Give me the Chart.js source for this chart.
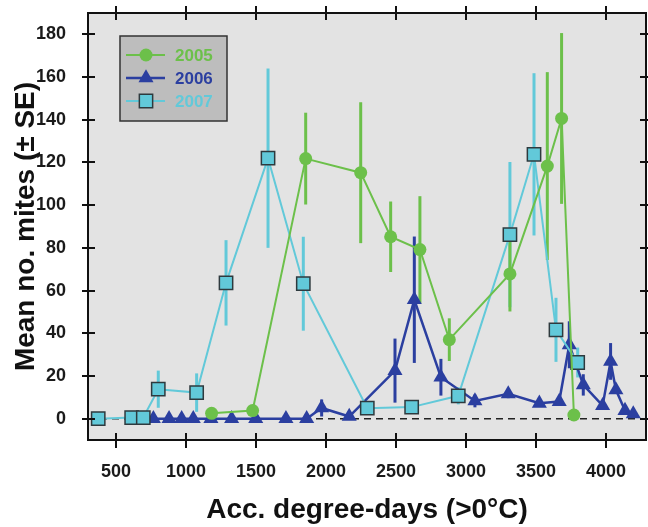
<!DOCTYPE html>
<html lang="en">
<head>
<meta charset="utf-8">
<title>Mean no. mites</title>
<script src="https://cdn.jsdelivr.net/npm/chart.js@4.4.0/dist/chart.umd.min.js"></script>
<style>
  html, body { margin: 0; padding: 0; background: #fff; }
  #wrap { width: 648px; height: 527px; }
</style>
</head>
<body>
<div id="wrap"><canvas id="chart" width="648" height="527"></canvas></div>
<script>
// values (x = acc. degree-days, y = mean mites, se = +/- SE)
const x2005 = [1183, 1476, 1855, 2248, 2462, 2671, 2881, 3314, 3581, 3683, 3771];
const y2005 = [2.5, 3.8, 121.8, 115.2, 85.2, 79.2, 37, 67.8, 118.3, 140.6, 1.7];
const se2005 = [0, 0, 21.5, 33, 16.5, 25, 10, 17.6, 44, 40, 0];

const x2006 = [767, 879, 969, 1052, 1178, 1326, 1498, 1714, 1862, 1969, 2166, 2493, 2631,
               2821, 3064, 3302, 3524, 3666, 3738, 3838, 3976, 4033, 4071, 4136, 4195];
const y2006 = [0, 0, 0, 0, 0, 0, 0, 0, 0, 5, 1, 22.5, 55.7,
               19.4, 8.3, 11.6, 7.2, 8, 34.6, 15.8, 6.1, 26.8, 13.5, 3.8, 2.2];
const se2006 = [0, 0, 0, 0, 0, 0, 0, 0, 0, 4, 0, 15, 29.6,
                8.6, 3, 2, 0, 0, 11, 5, 0, 8.6, 0, 0, 0];

const x2007 = [373, 612, 695, 802, 1076, 1286, 1586, 1838, 2295, 2612, 2945, 3314, 3486, 3643, 3798];
const y2007 = [0, 0.5, 0.5, 13.8, 12.2, 63.6, 122, 63.2, 4.9, 5.4, 10.7, 86.2, 123.8, 41.6, 26.3];
const se2007 = [0, 0, 0, 8.7, 9, 20, 42, 22, 0, 0, 4, 34, 38, 15, 7];

const xTicks = [500, 1000, 1500, 2000, 2500, 3000, 3500, 4000];
const yTicks = [0, 20, 40, 60, 80, 100, 120, 140, 160, 180];

const green = "#6cc04a";
const blue = "#2b3fa0";
const cyan = "#62c9d9";

const pts = (xs, ys) => xs.map((v, i) => ({ x: v, y: ys[i] }));

// background, zero line, error bars, frame, ticks and legend box
const decor = {
  id: "decor",
  beforeDraw(chart) {
    const { ctx, chartArea: a } = chart;
    ctx.save();
    ctx.fillStyle = "#e3e3e3";
    ctx.fillRect(a.left, a.top, a.right - a.left, a.bottom - a.top);
    ctx.restore();
  },
  beforeDatasetsDraw(chart) {
    const { ctx, chartArea: a, scales: { x, y } } = chart;
    ctx.save();
    const y0 = y.getPixelForValue(0);
    ctx.setLineDash([7, 5]);
    ctx.strokeStyle = "#222";
    ctx.lineWidth = 1.5;
    ctx.beginPath();
    ctx.moveTo(a.left, y0);
    ctx.lineTo(a.right, y0);
    ctx.stroke();
    ctx.setLineDash([]);
    ctx.lineWidth = 3;
    // bottom-most dataset first
    [...chart.data.datasets].reverse().forEach(ds => {
      ctx.strokeStyle = ds.borderColor;
      ds.data.forEach((p, i) => {
        const e = ds.errors[i];
        if (!e) return;
        const px = x.getPixelForValue(p.x);
        ctx.beginPath();
        ctx.moveTo(px, y.getPixelForValue(p.y - e));
        ctx.lineTo(px, y.getPixelForValue(p.y + e));
        ctx.stroke();
      });
    });
    ctx.restore();
  },
  afterDraw(chart) {
    const { ctx, chartArea: a, scales: { x, y } } = chart;
    ctx.save();
    ctx.strokeStyle = "#111";
    ctx.lineWidth = 2;
    ctx.strokeRect(a.left, a.top, a.right - a.left, a.bottom - a.top);
    ctx.beginPath();
    xTicks.forEach(v => {
      const px = Math.round(x.getPixelForValue(v));
      ctx.moveTo(px, a.bottom - 7); ctx.lineTo(px, a.bottom + 8);
      ctx.moveTo(px, a.top - 7); ctx.lineTo(px, a.top + 7);
    });
    yTicks.forEach(v => {
      const py = Math.round(y.getPixelForValue(v));
      ctx.moveTo(a.left - 6, py); ctx.lineTo(a.left + 7, py);
      ctx.moveTo(a.right - 6, py); ctx.lineTo(a.right + 6, py);
    });
    ctx.stroke();

    // legend box
    const bx = 120, by = 36, bw = 107, bh = 85;
    ctx.fillStyle = "#bdbdbd";
    ctx.fillRect(bx, by, bw, bh);
    ctx.strokeStyle = "#333";
    ctx.lineWidth = 1.5;
    ctx.strokeRect(bx, by, bw, bh);
    const rows = [55, 78, 101];
    ctx.font = "bold 17px 'Liberation Sans', Arial, sans-serif";
    ctx.textBaseline = "middle";
    chart.data.datasets.forEach((ds, i) => {
      const ry = rows[i];
      ctx.strokeStyle = ds.borderColor;
      ctx.lineWidth = ds.borderWidth;
      ctx.beginPath();
      ctx.moveTo(126, ry); ctx.lineTo(165, ry);
      ctx.stroke();
      ctx.fillStyle = ds.pointBackgroundColor;
      ctx.strokeStyle = ds.pointBorderColor;
      ctx.lineWidth = ds.pointBorderWidth;
      ctx.beginPath();
      if (ds.pointStyle === "circle") {
        ctx.arc(146, ry, ds.pointRadius, 0, Math.PI * 2);
      } else if (ds.pointStyle === "triangle") {
        const r = ds.pointRadius;
        ctx.moveTo(146, ry - r);
        ctx.lineTo(146 + r * Math.sin(Math.PI / 3), ry + r / 2);
        ctx.lineTo(146 - r * Math.sin(Math.PI / 3), ry + r / 2);
        ctx.closePath();
      } else {
        const s = ds.pointRadius * Math.SQRT1_2;
        ctx.rect(146 - s, ry - s, 2 * s, 2 * s);
      }
      ctx.fill();
      if (ds.pointBorderWidth) ctx.stroke();
      ctx.fillStyle = ds.borderColor;
      ctx.fillText(ds.label, 175, ry + 1);
    });
    ctx.restore();
  }
};

const font = "'Liberation Sans', Arial, sans-serif";

new Chart(document.getElementById("chart"), {
  type: "scatter",
  plugins: [decor],
  data: {
    datasets: [
      {
        label: "2005",
        data: pts(x2005, y2005),
        errors: se2005,
        showLine: true,
        borderColor: green,
        borderWidth: 2,
        pointStyle: "circle",
        pointRadius: 6.5,
        pointBackgroundColor: green,
        pointBorderColor: green,
        pointBorderWidth: 0,
        order: 1
      },
      {
        label: "2006",
        data: pts(x2006, y2006),
        errors: se2006,
        showLine: true,
        borderColor: blue,
        borderWidth: 2.5,
        pointStyle: "triangle",
        pointRadius: 8.7,
        pointBackgroundColor: blue,
        pointBorderColor: blue,
        pointBorderWidth: 0,
        order: 3
      },
      {
        label: "2007",
        data: pts(x2007, y2007),
        errors: se2007,
        showLine: true,
        borderColor: cyan,
        borderWidth: 2,
        pointStyle: "rect",
        pointRadius: 9.4,
        pointBackgroundColor: cyan,
        pointBorderColor: "#2e3a3e",
        pointBorderWidth: 1.5,
        order: 2
      }
    ]
  },
  options: {
    responsive: false,
    animation: false,
    layout: { autoPadding: false, padding: { top: 13, right: 2, bottom: 0, left: 0 } },
    plugins: {
      legend: { display: false },
      tooltip: { enabled: false }
    },
    scales: {
      x: {
        type: "linear",
        min: 300,
        max: 4286,
        afterFit: s => { s.height = 87; s.paddingLeft = 0; s.paddingRight = 0; },
        afterBuildTicks: s => { s.ticks = xTicks.map(v => ({ value: v })); },
        grid: { display: false },
        border: { display: false },
        ticks: {
          padding: 13,
          color: "#1a1a1a",
          font: { family: font, size: 18, weight: "bold" },
          maxRotation: 0,
          callback: v => String(v)
        },
        title: {
          display: true,
          text: "Acc. degree-days (>0°C)",
          color: "#111",
          font: { family: font, size: 28, weight: "bold" },
          padding: { top: 0, bottom: 0 }
        }
      },
      y: {
        type: "linear",
        min: -10,
        max: 190,
        afterFit: s => { s.width = 88; s.paddingTop = 0; s.paddingBottom = 0; },
        afterBuildTicks: s => { s.ticks = yTicks.map(v => ({ value: v })); },
        grid: { display: false },
        border: { display: false },
        ticks: {
          padding: 14,
          color: "#1a1a1a",
          font: { family: font, size: 18, weight: "bold" },
          callback: v => String(v)
        },
        title: {
          display: true,
          text: "Mean no. mites (± SE)",
          color: "#111",
          font: { family: font, size: 28, weight: "bold" },
          padding: { top: 9, bottom: 0 }
        }
      }
    }
  }
});
</script>
</body>
</html>
